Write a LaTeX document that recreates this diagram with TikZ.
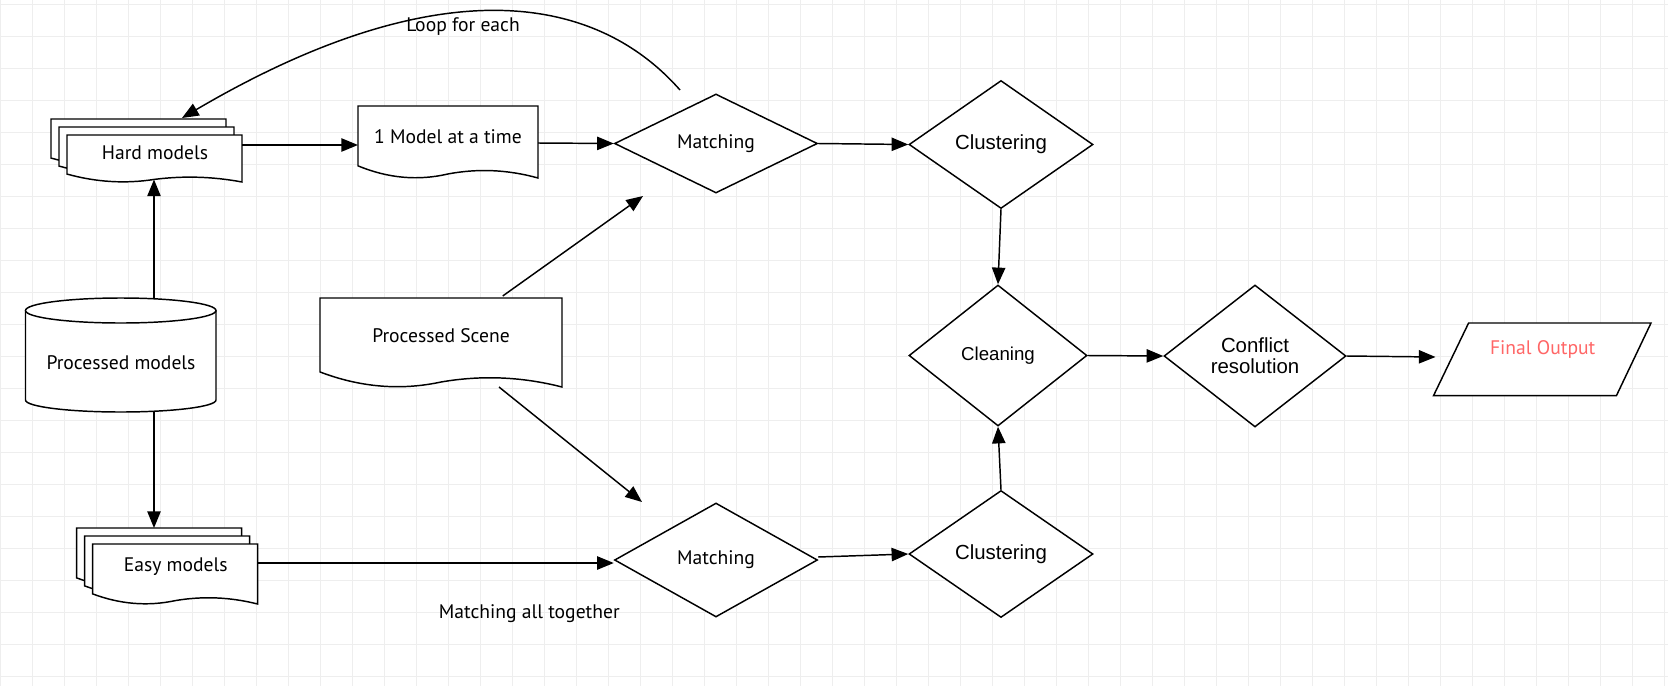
\documentclass[tikz,border=0pt]{standalone}
\usepackage{fontspec}
\setmainfont{PT Sans}
\newfontfamily\arialf{Liberation Sans}
\usetikzlibrary{arrows.meta,shapes.geometric,calc}
\definecolor{gridcol}{RGB}{238,238,238}
\definecolor{outred}{RGB}{255,102,102}
\newcommand{\mydoc}[4]{%
  \draw[box] (#1,#2) -- ({#1+#3},#2) -- ({#1+#3},{#2+#4})
    .. controls ({#1+0.8333*#3},{#2+#4-0.116*#4}) and ({#1+0.6667*#3},{#2+#4-0.1347*#4}) .. ({#1+0.5*#3},{#2+#4-0.056*#4})
    .. controls ({#1+0.3333*#3},{#2+#4+0.0413*#4}) and ({#1+0.1667*#3},{#2+#4+0.0037*#4}) .. (#1,{#2+#4-0.169*#4}) -- cycle;}
\tikzset{
  box/.style={draw=black, line width=1.1pt, fill=white, line join=miter},
  gridline/.style={draw=gridcol, line width=0.75pt},
  dia/.style={diamond, draw=black, line width=1.1pt, fill=white, inner sep=0pt, align=center},
  conn/.style={line width=1.1pt, -{Triangle[length=12.5pt,width=10pt]}},
  txt/.style={inner sep=0pt, font=\fontsize{14.7pt}{18pt}\selectfont},
  atxt/.style={font=\arialf\fontsize{15.3pt}{16pt}\selectfont},
}
\begin{document}
\begin{tikzpicture}[x=0.75pt,y=-0.75pt]
\useasboundingbox[fill=white] (0,0) rectangle (1668,686);
% grid
\foreach \i in {0,...,52} \draw[gridline] ({0.5+32*\i},0) -- ({0.5+32*\i},686);
\foreach \j in {0,...,21} \draw[gridline] (0,{4+32*\j}) -- (1668,{4+32*\j});

% Hard models stack
\mydoc{51}{119}{175}{47}
\mydoc{59}{127}{175}{47}
\mydoc{67}{135}{175}{47}
\node[txt] (hm) at (155,153) {Hard models};

% Easy models stack
\mydoc{76.6}{528}{165}{60}
\mydoc{84.6}{536}{165}{60}
\mydoc{92.6}{544}{165}{60}
\node[txt] (em) at (175.7,567) {Easy models};

% 1 Model at a time
\mydoc{358}{106}{180}{72}
\node[txt] (om) at (448,137) {1 Model at a time};

% Processed Scene
\mydoc{320}{298}{242}{89}
\node[txt] (ps) at (441,335.5) {Processed Scene};

% Processed models cylinder
\draw[box] (25.5,310.5) -- (25.5,400) arc[start angle=180,end angle=0,x radius=95.25,y radius=12] -- (216,310.5);
\draw[box] (120.75,310.5) ellipse [x radius=95.25, y radius=12.5];
\node[txt] (pm) at (121,363) {Processed models};

% diamonds
\node[dia, minimum width=152.25pt, minimum height=74.25pt, txt] (m1) at (716,143.5) {Matching};
\node[dia, minimum width=138pt, minimum height=96pt, atxt] (c1) at (1001,144.5) {Clustering};
\node[dia, minimum width=133.5pt, minimum height=105.75pt, font=\arialf\fontsize{14pt}{16pt}\selectfont] (cl) at (998,355.5) {Cleaning};
\node[dia, minimum width=136.5pt, minimum height=106.5pt, atxt] (cr) at (1255,356) {Conflict\\resolution};
\node[dia, minimum width=152.25pt, minimum height=85.5pt, txt] (m2) at (716,560) {Matching};
\node[dia, minimum width=138pt, minimum height=95.25pt, atxt] (c2) at (1001,554) {Clustering};

% Final output
\draw[box] (1468.6,323) -- (1651,323) -- (1616.4,395.7) -- (1433.5,395.7) -- cycle;
\node[txt, text=outred] (fo) at (1542.7,349) {Final Output};

% labels
\node[txt] (loop) at (463,27) {Loop for each};
\node[txt] (mat) at (529.3,614) {Matching all together};

% connection points
\coordinate (cylTop) at (154,298);
\coordinate (hmBot) at (154,179.5);
\coordinate (cylBot) at (154,412);
\coordinate (emTop) at (154,528);
\coordinate (hmR) at (242,145);
\coordinate (omL) at (358,145);
\coordinate (omR) at (538,143);
\coordinate (emR) at (257.6,563);
\coordinate (psTop) at (502.7,296);
\coordinate (m1in) at (643,196);
\coordinate (psBot) at (499,387);
\coordinate (m2in) at (642,502);
\coordinate (foIn) at (1435.5,357);
\coordinate (loopS) at (680,90);
\coordinate (loopE) at (182,118);
\coordinate (m2out) at ($(m2.east)+(0,-3)$);

% connectors
\draw[conn] (cylTop) -- (hmBot);
\draw[conn] (cylBot) -- (emTop);
\draw[conn] (hmR) -- (omL);
\draw[conn] (omR) -- (m1.west);
\draw[conn] (emR) -- (m2.west |- emR);
\draw[conn] (psTop) -- (m1in);
\draw[conn] (psBot) -- (m2in);
\draw[conn] (m1.east) -- (c1.west);
\draw[conn] (m2out) -- (c2.west);
\draw[conn] (c1.south) -- (cl.north);
\draw[conn] (c2.north) -- (cl.south);
\draw[conn] (cl.east) -- (cr.west);
\draw[conn] (cr.east) -- (foIn);
\draw[conn] (loopS) .. controls (592,-10) and (432,-29) .. (loopE);
\end{tikzpicture}
\end{document}
